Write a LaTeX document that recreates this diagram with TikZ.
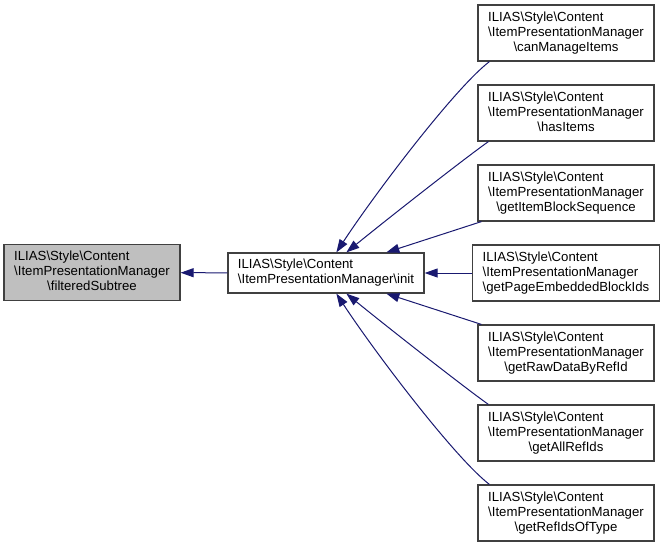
\documentclass[tikz,border=0pt]{standalone}
\usepackage{fontspec}
\setmainfont{Liberation Sans}
\usetikzlibrary{arrows.meta}
\definecolor{edgeblue}{HTML}{191970}
\definecolor{boxgray}{HTML}{BFBFBF}
\definecolor{boxline}{HTML}{404040}
\newcommand{\bs}{\textbackslash}
\newcommand{\mlabel}[1]{\begin{tabular}{@{}l@{}}ILIAS\bs Style\bs Content\\\bs ItemPresentationManager\\\multicolumn{1}{@{}c@{}}{\bs #1}\end{tabular}}
\begin{document}
\begin{tikzpicture}[x=1pt,y=-1pt,
  box/.style={draw=boxline,line width=1.2pt,fill=white,minimum width=176pt,minimum height=56pt,inner xsep=10pt,inner ysep=2pt,font=\fontsize{13.2}{15}\selectfont},
  edge/.style={draw=edgeblue,line width=1pt,-{Triangle[length=13pt,width=9pt]}}]
\useasboundingbox (0,0) rectangle (664,547);
\node[box,fill=boxgray] (subtree) at (92,272.5) {\mlabel{filteredSubtree}};
\node[box,minimum width=0pt,minimum height=40pt] (init) at (326,273) {\begin{tabular}{@{}l@{}}ILIAS\bs Style\bs Content\\\bs ItemPresentationManager\bs init\end{tabular}};
\node[box] (manage) at (566,33) {\mlabel{canManageItems}};
\node[box] (hasitems) at (566,113) {\mlabel{hasItems}};
\node[box] (sequence) at (566,193) {\mlabel{getItemBlockSequence}};
\node[box] (embedded) at (566,273) {\mlabel{getPageEmbeddedBlockIds}};
\node[box] (rawdata) at (566,353) {\mlabel{getRawDataByRefId}};
\node[box] (allrefs) at (566,433) {\mlabel{getAllRefIds}};
\node[box] (oftype) at (566,513) {\mlabel{getRefIdsOfType}};
\draw[edge] (init) -- (subtree);
\draw[edge] ([xshift=12pt]manage.south west) .. controls +(-35,27) and +(38,-58) .. ([xshift=109pt]init.north west);
\draw[edge] ([xshift=11pt]hasitems.south west) .. controls +(-24,17) and +(43,-35) .. ([xshift=119pt]init.north west);
\draw[edge] ([xshift=4pt]sequence.south west) -- ([xshift=159pt]init.north west);
\draw[edge] (embedded) -- (init);
\draw[edge] ([xshift=4pt]rawdata.north west) -- ([xshift=159pt]init.south west);
\draw[edge] ([xshift=11pt]allrefs.north west) .. controls +(-24,-17) and +(43,35) .. ([xshift=119pt]init.south west);
\draw[edge] ([xshift=12pt]oftype.north west) .. controls +(-35,-27) and +(38,58) .. ([xshift=109pt]init.south west);
\end{tikzpicture}
\end{document}
